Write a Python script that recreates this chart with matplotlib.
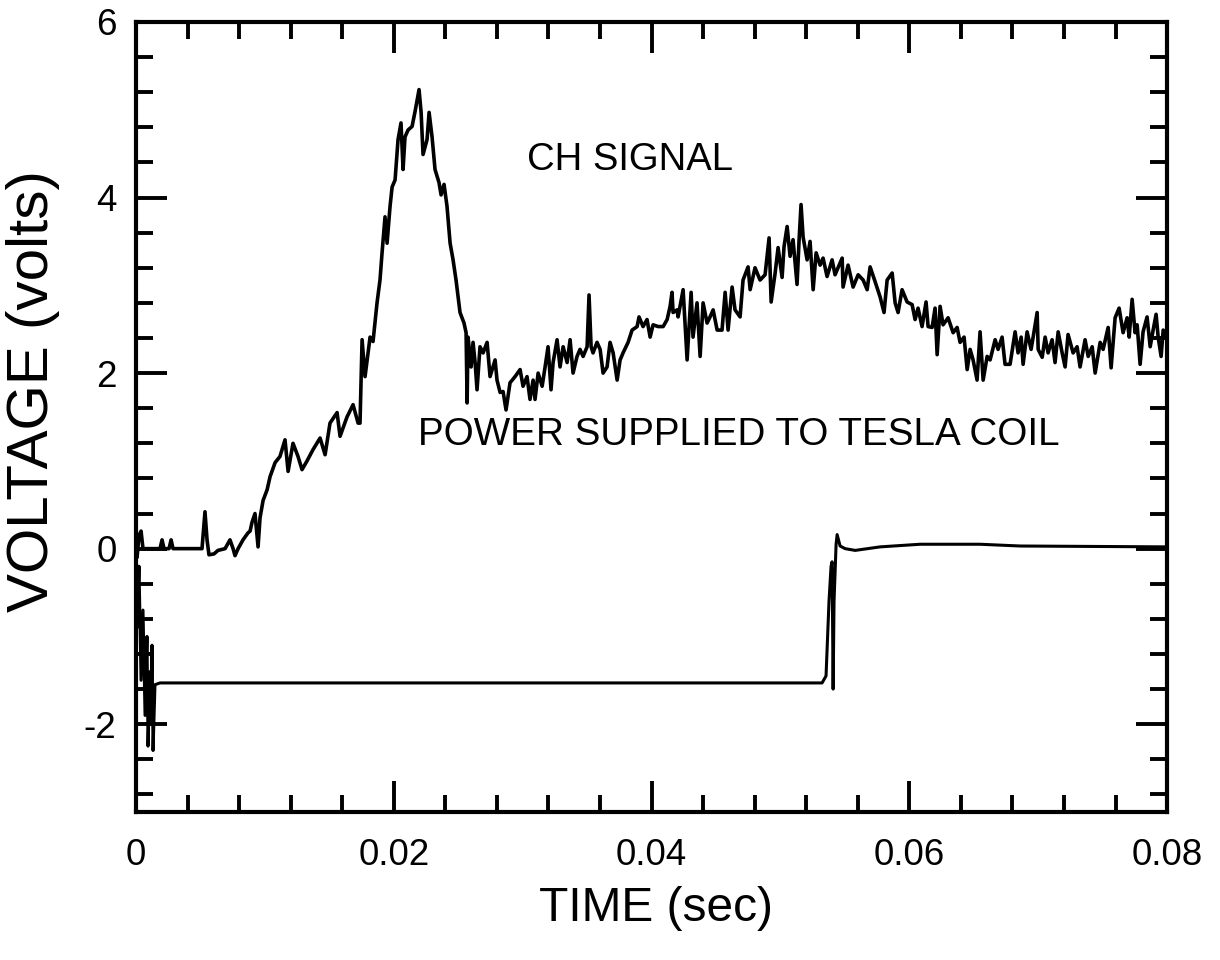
import matplotlib
matplotlib.use("Agg")
import matplotlib.pyplot as plt
from matplotlib.ticker import MultipleLocator

plt.rcParams['font.family'] = ['Liberation Sans', 'DejaVu Sans']

# CH signal trace (time in sec, voltage in volts)
ch_time = [
    0.0, 0.00008, 0.00023, 0.00039, 0.00054, 0.00078, 0.00186, 0.00202, 0.00217, 0.00256,
    0.00272, 0.00287, 0.00512, 0.00535, 0.00551, 0.00566, 0.00605, 0.00636, 0.00691, 0.00729,
    0.00753, 0.00768, 0.00792, 0.00830, 0.00869, 0.00885, 0.00900, 0.00923, 0.00947, 0.00962,
    0.00986, 0.01017, 0.01040, 0.01079, 0.01117, 0.01156, 0.01180, 0.01218, 0.01257, 0.01288,
    0.01327, 0.01374, 0.01428, 0.01467, 0.01505, 0.01560, 0.01583, 0.01637, 0.01684, 0.01723,
    0.01738, 0.01754, 0.01777, 0.01816, 0.01839, 0.01870, 0.01893, 0.01909, 0.01932, 0.01948,
    0.01971, 0.01987, 0.02010, 0.02033, 0.02056, 0.02072, 0.02087, 0.02111, 0.02142, 0.02165,
    0.02196, 0.02212, 0.02227, 0.02258, 0.02274, 0.02297, 0.02320, 0.02351, 0.02367, 0.02390,
    0.02413, 0.02437, 0.02460, 0.02483, 0.02514, 0.02545, 0.02561, 0.02569, 0.02576, 0.02600,
    0.02615, 0.02631, 0.02646, 0.02669, 0.02693, 0.02724, 0.02747, 0.02786, 0.02801, 0.02825,
    0.02848, 0.02871, 0.02902, 0.02941, 0.02980, 0.03003, 0.03034, 0.03057, 0.03081, 0.03096,
    0.03120, 0.03151, 0.03174, 0.03197, 0.03220, 0.03236, 0.03267, 0.03290, 0.03314, 0.03345,
    0.03368, 0.03391, 0.03422, 0.03445, 0.03469, 0.03500, 0.03515, 0.03531, 0.03546, 0.03577,
    0.03601, 0.03624, 0.03655, 0.03678, 0.03702, 0.03733, 0.03756, 0.03779, 0.03818, 0.03849,
    0.03888, 0.03903, 0.03934, 0.03965, 0.03989, 0.04012, 0.04051, 0.04090, 0.04121, 0.04144,
    0.04159, 0.04167, 0.04198, 0.04206, 0.04245, 0.04276, 0.04307, 0.04322, 0.04353, 0.04377,
    0.04400, 0.04431, 0.04454, 0.04478, 0.04509, 0.04547, 0.04571, 0.04594, 0.04625, 0.04648,
    0.04687, 0.04710, 0.04749, 0.04765, 0.04803, 0.04842, 0.04881, 0.04912, 0.04928, 0.04959,
    0.04982, 0.05013, 0.05028, 0.05052, 0.05075, 0.05098, 0.05129, 0.05145, 0.05160, 0.05176,
    0.05207, 0.05230, 0.05254, 0.05277, 0.05308, 0.05331, 0.05362, 0.05401, 0.05424, 0.05479,
    0.05486, 0.05525, 0.05564, 0.05603, 0.05642, 0.05673, 0.05696, 0.05735, 0.05773, 0.05804,
    0.05828, 0.05867, 0.05890, 0.05913, 0.05944, 0.05983, 0.06022, 0.06045, 0.06068, 0.06099,
    0.06130, 0.06146, 0.06177, 0.06200, 0.06216, 0.06239, 0.06262, 0.06301, 0.06340, 0.06371,
    0.06394, 0.06425, 0.06449, 0.06472, 0.06495, 0.06526, 0.06549, 0.06573, 0.06604, 0.06627,
    0.06666, 0.06689, 0.06720, 0.06743, 0.06782, 0.06821, 0.06844, 0.06868, 0.06883, 0.06914,
    0.06945, 0.06961, 0.06992, 0.07000, 0.07031, 0.07054, 0.07077, 0.07108, 0.07131, 0.07155,
    0.07186, 0.07209, 0.07232, 0.07271, 0.07302, 0.07325, 0.07364, 0.07388, 0.07419, 0.07442,
    0.07481, 0.07504, 0.07543, 0.07566, 0.07597, 0.07628, 0.07659, 0.07690, 0.07706, 0.07729,
    0.07752, 0.07768, 0.07791, 0.07814, 0.07845, 0.07869, 0.07892, 0.07915, 0.07931, 0.07954,
    0.07970, 0.08000,
]
ch_volts = [
    0.0, -0.1, 0.15, 0.2, 0.0, 0.0, 0.0, 0.1, 0.0, 0.0,
    0.1, 0.0, 0.0, 0.42, 0.1, -0.07, -0.06, -0.02, 0.0, 0.1,
    0.0, -0.08, 0.0, 0.1, 0.18, 0.2, 0.3, 0.4, 0.02, 0.35,
    0.55, 0.67, 0.82, 0.98, 1.05, 1.24, 0.88, 1.2, 1.05, 0.9,
    1.0, 1.13, 1.26, 1.07, 1.43, 1.55, 1.28, 1.5, 1.64, 1.43,
    1.43, 2.38, 1.96, 2.41, 2.36, 2.8, 3.06, 3.37, 3.78, 3.48,
    3.9, 4.12, 4.2, 4.66, 4.85, 4.32, 4.69, 4.77, 4.81, 4.98,
    5.23, 4.97, 4.49, 4.66, 4.97, 4.69, 4.32, 4.17, 4.03, 4.15,
    3.9, 3.48, 3.29, 3.06, 2.69, 2.57, 2.46, 1.66, 2.41, 2.07,
    2.35, 2.12, 1.81, 2.3, 2.23, 2.35, 1.96, 2.15, 1.92, 1.78,
    1.79, 1.58, 1.89, 1.96, 2.04, 1.85, 1.96, 1.7, 1.92, 1.7,
    2.0, 1.85, 2.07, 2.3, 1.81, 2.12, 2.38, 2.07, 2.3, 2.12,
    2.38, 2.0, 2.19, 2.27, 2.19, 2.3, 2.89, 2.3, 2.23, 2.35,
    2.27, 2.0, 2.07, 2.35, 2.23, 1.92, 2.15, 2.23, 2.35, 2.49,
    2.53, 2.64, 2.53, 2.61, 2.41, 2.55, 2.53, 2.53, 2.61, 2.76,
    2.92, 2.69, 2.72, 2.64, 2.95, 2.15, 2.92, 2.41, 2.8, 2.19,
    2.8, 2.57, 2.64, 2.72, 2.49, 2.49, 2.92, 2.49, 2.98, 2.72,
    2.64, 3.06, 3.21, 2.95, 3.2, 3.06, 3.12, 3.54, 2.81, 3.14,
    3.43, 3.09, 3.44, 3.67, 3.33, 3.52, 3.01, 3.52, 3.92, 3.55,
    3.29, 3.5, 2.95, 3.37, 3.23, 3.31, 3.1, 3.29, 3.12, 3.31,
    2.98, 3.23, 2.98, 3.12, 3.06, 2.95, 3.21, 3.04, 2.87, 2.69,
    3.06, 3.14, 2.8, 2.69, 2.95, 2.81, 2.78, 2.61, 2.74, 2.53,
    2.81, 2.53, 2.52, 2.74, 2.21, 2.76, 2.55, 2.63, 2.46, 2.52,
    2.35, 2.41, 2.04, 2.27, 2.15, 1.92, 2.47, 1.92, 2.19, 2.15,
    2.38, 2.27, 2.41, 2.1, 2.1, 2.47, 2.23, 2.41, 2.1, 2.47,
    2.27, 2.41, 2.69, 2.27, 2.18, 2.41, 2.23, 2.38, 2.12, 2.47,
    2.23, 2.07, 2.44, 2.23, 2.3, 2.07, 2.38, 2.19, 2.3, 2.0,
    2.35, 2.27, 2.52, 2.06, 2.63, 2.74, 2.46, 2.63, 2.41, 2.84,
    2.46, 2.55, 2.1, 2.47, 2.64, 2.3, 2.49, 2.67, 2.41, 2.19,
    2.49, 2.4,
]

# power supplied to Tesla coil
pw_time = [
    0.0, 0.00008, 0.00023, 0.00039, 0.00054, 0.00070, 0.00085, 0.00093, 0.00109, 0.00116,
    0.00124, 0.00132, 0.00147, 0.00186, 0.05323, 0.05354, 0.05377, 0.05393, 0.05401, 0.05409,
    0.05416, 0.05432, 0.05440, 0.05463, 0.05502, 0.05580, 0.05773, 0.06084, 0.06549, 0.06860,
    0.08000,
]
pw_volts = [
    0.0, -0.9, -0.2, -1.5, -0.7, -1.9, -1.0, -2.25, -1.4, -2.0,
    -1.1, -2.3, -1.55, -1.53, -1.53, -1.45, -0.6, -0.2, -0.15, -1.6,
    -0.6, 0.05, 0.16, 0.03, 0.0, -0.02, 0.02, 0.05, 0.05, 0.03,
    0.02,
]

fig = plt.figure(figsize=(12.2, 9.6), dpi=100)
ax = fig.add_axes([0.1115, 0.1542, 0.8451, 0.8229])

ax.plot(ch_time, ch_volts, color='black', lw=2.6)
ax.plot(pw_time, pw_volts, color='black', lw=2.2)

ax.text(0.0303, 4.43, 'CH SIGNAL', fontsize=27.5, va='center', ha='left')
ax.text(0.0219, 1.29, 'POWER SUPPLIED TO TESLA COIL', fontsize=27.8, va='center', ha='left')

ax.set_xlim(0, 0.08)
ax.set_ylim(-3, 6)
ax.xaxis.set_major_locator(MultipleLocator(0.02))
ax.xaxis.set_minor_locator(MultipleLocator(0.004))
ax.yaxis.set_major_locator(MultipleLocator(2))
ax.yaxis.set_minor_locator(MultipleLocator(0.4))
ax.set_xticks([0, 0.02, 0.04, 0.06, 0.08])
ax.set_xticklabels(['0', '0.02', '0.04', '0.06', '0.08'])
ax.set_yticks([-2, 0, 2, 4, 6])
ax.set_yticklabels(['-2', '0', '2', '4', '6'])

ax.tick_params(which='both', direction='in', top=True, right=True, width=2.8, labelsize=26.5)
ax.tick_params(which='major', length=22)
ax.tick_params(which='minor', length=12)
ax.tick_params(axis='x', pad=19)
ax.tick_params(axis='y', pad=14)
for s in ax.spines.values():
    s.set_linewidth(3)

fig.text(0.538, 0.054, 'TIME (sec)', fontsize=34.5, ha='center', va='center')
fig.text(0.027, 0.593, 'VOLTAGE (volts)', fontsize=42, ha='center', va='center', rotation=90)

fig.savefig('out.png', dpi=100)
